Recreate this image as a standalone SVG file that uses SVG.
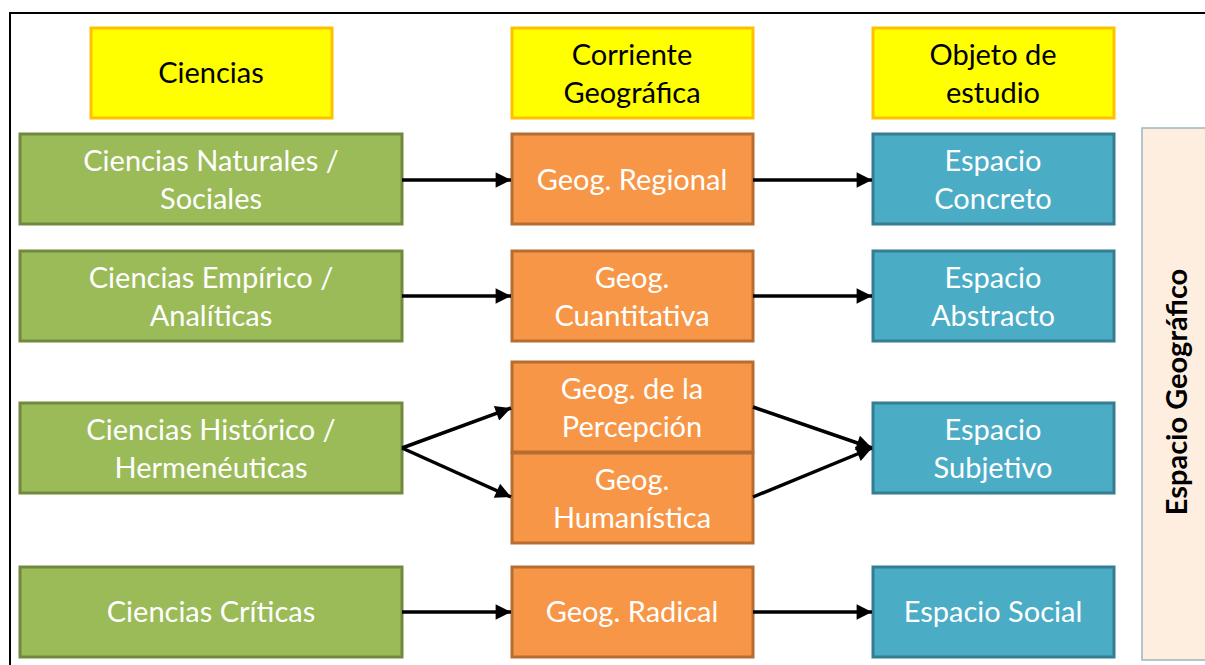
<svg xmlns="http://www.w3.org/2000/svg" width="1205" height="665" viewBox="0 0 1205 665">
<defs>
<marker id="ah" viewBox="0 0 10 10" refX="10" refY="5" markerWidth="5" markerHeight="4.4" markerUnits="strokeWidth" orient="auto">
<path d="M0,0 L10,5 L0,10 z" fill="#000"/>
</marker>
<style>
text{font-family:Lato,"Open Sans","Liberation Sans",sans-serif;font-size:29px;text-anchor:middle;fill:#fff}
.y rect{fill:#FFFF00;stroke:#FFC000;stroke-width:3}
.y text{fill:#000}
.g rect{fill:#9BBB59;stroke:#71893F;stroke-width:3}
.o rect{fill:#F79646;stroke:#B66D31;stroke-width:3}
.b rect{fill:#4BACC6;stroke:#357D91;stroke-width:3}
.c line{stroke:#000;stroke-width:3.5;marker-end:url(#ah)}
</style>
</defs>
<rect width="1205" height="665" fill="#fff"/>
<path d="M10,665 V13 H1205" fill="none" stroke="#000" stroke-width="2"/>
<g id="h1" class="y"><rect x="91" y="28" width="241" height="90"/><text x="211" y="83">Ciencias</text></g>
<g id="h2" class="y"><rect x="512" y="28" width="241" height="90"/><text x="632" y="65">Corriente</text><text x="632" y="103">Geográfica</text></g>
<g id="h3" class="y"><rect x="873" y="28" width="241" height="90"/><text x="993" y="65">Objeto de</text><text x="993" y="103">estudio</text></g>
<g id="g1" class="g"><rect x="20" y="134" width="382" height="90"/><text x="211" y="171">Ciencias Naturales /</text><text x="211" y="209">Sociales</text></g>
<g id="g2" class="g"><rect x="20" y="251" width="382" height="90"/><text x="211" y="288">Ciencias Empírico /</text><text x="211" y="326">Analíticas</text></g>
<g id="g3" class="g"><rect x="20" y="403" width="382" height="90"/><text x="211" y="440">Ciencias Histórico /</text><text x="211" y="478">Hermenéuticas</text></g>
<g id="g4" class="g"><rect x="20" y="567" width="382" height="90"/><text x="211" y="622">Ciencias Críticas</text></g>
<g id="o1" class="o"><rect x="512" y="134" width="241" height="90"/><text x="632" y="190">Geog. Regional</text></g>
<g id="o2" class="o"><rect x="512" y="251" width="241" height="90"/><text x="632" y="288">Geog.</text><text x="632" y="326">Cuantitativa</text></g>
<g id="o3" class="o"><rect x="512" y="362" width="241" height="90"/><text x="632" y="399">Geog. de la</text><text x="632" y="437">Percepción</text></g>
<g id="o4" class="o"><rect x="512" y="453" width="241" height="90"/><text x="632" y="490">Geog.</text><text x="632" y="528">Humanística</text></g>
<g id="o5" class="o"><rect x="512" y="567" width="241" height="90"/><text x="632" y="622">Geog. Radical</text></g>
<g id="b1" class="b"><rect x="873" y="134" width="241" height="90"/><text x="993" y="171">Espacio</text><text x="993" y="209">Concreto</text></g>
<g id="b2" class="b"><rect x="873" y="251" width="241" height="90"/><text x="993" y="288">Espacio</text><text x="993" y="326">Abstracto</text></g>
<g id="b3" class="b"><rect x="873" y="403" width="241" height="90"/><text x="993" y="440">Espacio</text><text x="993" y="478">Subjetivo</text></g>
<g id="b4" class="b"><rect x="873" y="567" width="241" height="90"/><text x="993" y="622">Espacio Social</text></g>
<g id="panel"><rect x="1142" y="128" width="70" height="532" fill="#FDEEE0" stroke="#9DB5C0" stroke-width="1.5"/><text transform="translate(1187,392) rotate(-90)" style="fill:#000;font-weight:bold;font-size:29px">Espacio Geográfico</text></g>
<g id="connectors" class="c">
<line x1="402" y1="180" x2="511" y2="180"/>
<line x1="753" y1="180" x2="872" y2="180"/>
<line x1="402" y1="296" x2="511" y2="296"/>
<line x1="753" y1="296" x2="872" y2="296"/>
<line x1="402" y1="448" x2="511" y2="408"/>
<line x1="402" y1="448" x2="511" y2="497"/>
<line x1="753" y1="407" x2="872" y2="448"/>
<line x1="753" y1="497" x2="872" y2="448"/>
<line x1="402" y1="612" x2="511" y2="612"/>
<line x1="753" y1="612" x2="872" y2="612"/>
</g>
</svg>
